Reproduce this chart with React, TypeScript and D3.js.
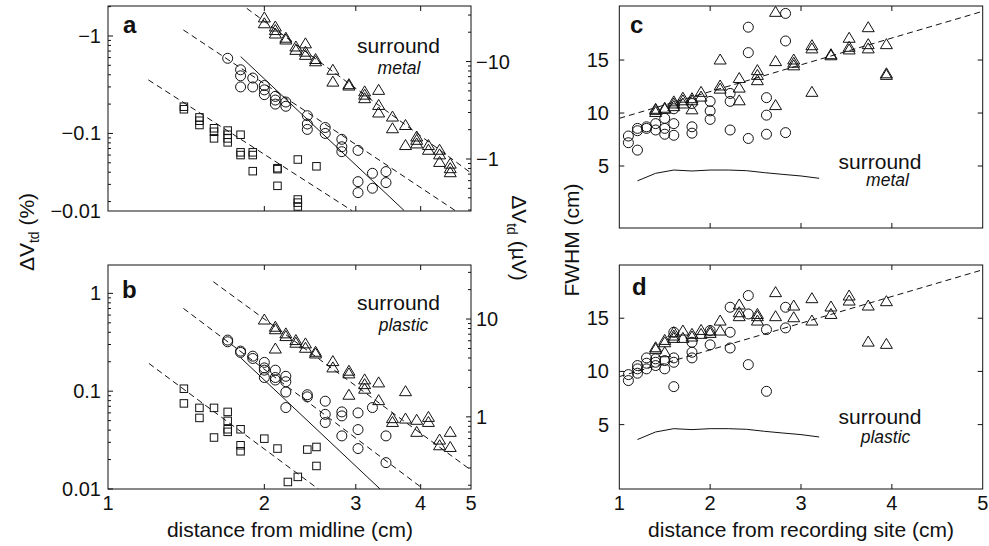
import React from "react";
import * as d3 from "d3";

type Pt = [number, number];

// ---------- Panel a (surround metal), ΔV_td in % (negative) ----------
const aSquares: Pt[] = [
  [1.4, -0.188], [1.4, -0.177],
  [1.5, -0.146], [1.5, -0.135], [1.5, -0.122],
  [1.6, -0.113], [1.6, -0.104], [1.6, -0.089],
  [1.7, -0.107], [1.7, -0.097], [1.7, -0.089], [1.7, -0.081],
  [1.8, -0.097], [1.8, -0.064], [1.8, -0.06],
  [1.9, -0.064], [1.9, -0.06], [1.9, -0.041],
  [2.12, -0.044], [2.12, -0.043], [2.12, -0.029],
  [2.32, -0.054], [2.32, -0.021], [2.32, -0.0195], [2.32, -0.0178],
  [2.52, -0.046],
];
const aCircles: Pt[] = [
  [1.7, -0.59],
  [1.8, -0.45], [1.8, -0.39], [1.8, -0.3],
  [1.9, -0.37], [1.9, -0.3],
  [2.0, -0.31], [2.0, -0.28], [2.0, -0.25],
  [2.1, -0.24], [2.1, -0.22], [2.1, -0.2],
  [2.2, -0.21], [2.2, -0.19],
  [2.42, -0.152], [2.42, -0.125], [2.42, -0.11],
  [2.62, -0.115], [2.62, -0.1],
  [2.82, -0.087], [2.82, -0.073], [2.82, -0.065],
  [3.03, -0.067], [3.03, -0.032], [3.03, -0.0247],
  [3.23, -0.039], [3.23, -0.0274],
  [3.43, -0.0406], [3.43, -0.0313],
];
const aTriangles: Pt[] = [
  [2.0, -1.55], [2.0, -1.35],
  [2.1, -1.25], [2.1, -1.15], [2.1, -1.06],
  [2.2, -0.96], [2.2, -0.92],
  [2.3, -0.78], [2.3, -0.72],
  [2.4, -0.84], [2.4, -0.69], [2.4, -0.64],
  [2.51, -0.58], [2.51, -0.55],
  [2.71, -0.45], [2.71, -0.34],
  [2.91, -0.32], [2.91, -0.31],
  [3.12, -0.27], [3.12, -0.25], [3.12, -0.23],
  [3.32, -0.28], [3.32, -0.196], [3.32, -0.164],
  [3.53, -0.149], [3.53, -0.113],
  [3.74, -0.122], [3.74, -0.076],
  [3.93, -0.093], [3.93, -0.086], [3.93, -0.079],
  [4.14, -0.076], [4.14, -0.068],
  [4.35, -0.068], [4.35, -0.061], [4.35, -0.051],
  [4.56, -0.049], [4.56, -0.044], [4.56, -0.04],
];
const aFitSquares: Pt[] = [[1.196, -0.354], [2.947, -0.0162]];
const aFitCircles: Pt[] = [[1.397, -1.152], [4.659, -0.0162]];
const aFitCirclesSolid: Pt[] = [[1.801, -0.614], [3.716, -0.0162]];
const aFitTriangles: Pt[] = [[1.85, -1.92], [5.0, -0.0393]];

// ---------- Panel b (surround plastic) ----------
const bSquares: Pt[] = [
  [1.4, 0.106], [1.4, 0.075],
  [1.5, 0.0675], [1.5, 0.0533],
  [1.6, 0.0675], [1.6, 0.0336],
  [1.7, 0.0614], [1.7, 0.0497], [1.7, 0.0408], [1.7, 0.0384],
  [1.8, 0.0408], [1.8, 0.028], [1.8, 0.0243],
  [2.0, 0.0327],
  [2.12, 0.0259],
  [2.22, 0.0118],
  [2.32, 0.0133],
  [2.42, 0.0253],
  [2.52, 0.0269], [2.52, 0.0172],
];
const bCircles: Pt[] = [
  [1.7, 0.333], [1.7, 0.32],
  [1.8, 0.257], [1.8, 0.249],
  [1.9, 0.228], [1.9, 0.216],
  [2.0, 0.197], [2.0, 0.173], [2.0, 0.164], [2.0, 0.138],
  [2.1, 0.164], [2.1, 0.138], [2.1, 0.13],
  [2.2, 0.142], [2.2, 0.125], [2.2, 0.098], [2.2, 0.068],
  [2.42, 0.092], [2.42, 0.0875],
  [2.62, 0.079], [2.62, 0.058], [2.62, 0.0478],
  [2.82, 0.0614], [2.82, 0.0559], [2.82, 0.0349],
  [3.03, 0.06], [3.03, 0.0405], [3.03, 0.0259],
  [3.23, 0.068],
  [3.43, 0.0349], [3.43, 0.0186],
];
const bTriangles: Pt[] = [
  [2.0, 0.54],
  [2.1, 0.456], [2.1, 0.43], [2.1, 0.273],
  [2.2, 0.39], [2.2, 0.366],
  [2.3, 0.333], [2.3, 0.313],
  [2.4, 0.308], [2.4, 0.278],
  [2.51, 0.253], [2.51, 0.243],
  [2.71, 0.203], [2.71, 0.175],
  [2.91, 0.162], [2.91, 0.152], [2.91, 0.092],
  [3.12, 0.132], [3.12, 0.118], [3.12, 0.106],
  [3.32, 0.123], [3.32, 0.081],
  [3.53, 0.053], [3.53, 0.0485],
  [3.74, 0.1], [3.74, 0.0525],
  [3.93, 0.051], [3.93, 0.0384],
  [4.14, 0.0546], [4.14, 0.0485],
  [4.35, 0.032], [4.35, 0.028],
  [4.56, 0.0384], [4.56, 0.0269],
];
const bFitSquares: Pt[] = [[1.199, 0.192], [2.541, 0.01]];
const bFitCircles: Pt[] = [[1.397, 0.702], [4.049, 0.01]];
const bFitCirclesSolid: Pt[] = [[1.8, 0.22], [3.341, 0.01]];
const bFitTriangles: Pt[] = [[1.595, 1.316], [5.0, 0.0156]];

// ---------- Panel c (FWHM, metal) ----------
const cCircles: Pt[] = [
  [1.1, 7.83], [1.1, 7.2],
  [1.2, 8.55], [1.2, 8.33], [1.2, 6.5],
  [1.3, 8.7], [1.3, 8.55],
  [1.4, 9.0], [1.4, 8.4],
  [1.5, 9.5], [1.5, 8.55], [1.5, 8.0],
  [1.6, 10.4], [1.6, 9.0], [1.6, 7.9],
  [1.8, 10.9], [1.8, 8.7], [1.8, 8.1],
  [2.0, 11.1], [2.0, 10.2], [2.0, 9.4],
  [2.22, 11.85], [2.22, 11.1], [2.22, 8.4],
  [2.42, 18.1], [2.42, 15.7], [2.42, 7.6],
  [2.62, 11.45], [2.62, 9.8], [2.62, 8.0],
  [2.83, 19.4], [2.83, 16.8], [2.83, 8.15],
];
const cTriangles: Pt[] = [
  [1.4, 10.4], [1.4, 10.3], [1.4, 10.1],
  [1.5, 10.4], [1.5, 10.5],
  [1.6, 11.1], [1.6, 10.9], [1.6, 10.65],
  [1.7, 11.45], [1.7, 11.2], [1.7, 10.9],
  [1.8, 11.4], [1.8, 11.2], [1.8, 10.35],
  [1.9, 12.0], [1.9, 11.55],
  [2.11, 15.05], [2.11, 12.6], [2.11, 12.3],
  [2.32, 13.3], [2.32, 12.4], [2.32, 11.2],
  [2.52, 14.05], [2.52, 13.6], [2.52, 13.1],
  [2.72, 19.55], [2.72, 14.9], [2.72, 10.75],
  [2.92, 15.05], [2.92, 14.75], [2.92, 14.5],
  [3.12, 16.4], [3.12, 16.1], [3.12, 12.0],
  [3.33, 15.55], [3.33, 15.45],
  [3.53, 17.1], [3.53, 16.25], [3.53, 16.0],
  [3.74, 18.1], [3.74, 16.5], [3.74, 16.1],
  [3.94, 16.5], [3.94, 13.75], [3.94, 13.6],
];
const cFit: Pt[] = [[1, 9.5], [5, 19.6]];

// ---------- Panel d (FWHM, plastic) ----------
const dCircles: Pt[] = [
  [1.1, 9.7], [1.1, 9.14],
  [1.2, 10.55], [1.2, 10.24], [1.2, 9.83],
  [1.3, 11.27], [1.3, 10.77], [1.3, 10.24],
  [1.4, 11.18], [1.4, 10.86], [1.4, 10.55],
  [1.5, 11.02], [1.5, 10.24],
  [1.6, 13.68], [1.6, 11.27], [1.6, 10.86], [1.6, 8.57],
  [1.8, 12.74], [1.8, 11.8], [1.8, 11.27],
  [2.0, 13.84], [2.0, 12.5],
  [2.22, 16.03], [2.22, 13.68], [2.22, 12.2],
  [2.42, 17.13], [2.42, 15.4], [2.42, 10.64],
  [2.62, 13.93], [2.62, 8.13],
  [2.83, 16.03], [2.83, 14.09],
];
const dTriangles: Pt[] = [
  [1.4, 12.27], [1.4, 12.12],
  [1.5, 12.96], [1.5, 12.74], [1.5, 11.8],
  [1.6, 13.68], [1.6, 13.37], [1.6, 13.15],
  [1.7, 13.84], [1.7, 13.15],
  [1.8, 13.53], [1.8, 13.28],
  [1.9, 13.9], [1.9, 13.53],
  [2.0, 13.84], [2.0, 13.62],
  [2.11, 14.78], [2.11, 13.84],
  [2.32, 16.29], [2.32, 15.56], [2.32, 15.19],
  [2.52, 15.4], [2.52, 15.19], [2.52, 14.78],
  [2.72, 17.45], [2.72, 15.19],
  [2.92, 16.19], [2.92, 15.09],
  [3.12, 16.88], [3.12, 14.78],
  [3.33, 16.1], [3.33, 15.4],
  [3.53, 17.13], [3.53, 16.66],
  [3.74, 16.19], [3.74, 12.8],
  [3.94, 16.6], [3.94, 12.59],
];
const dFit: Pt[] = [[1, 9.51], [5, 19.55]];

// theoretical FWHM curve (same in c and d)
const theoryX = [1.2, 1.4, 1.6, 1.8, 2.0, 2.2, 2.4, 2.6, 2.8, 3.0, 3.2];
const theoryY = [3.6, 4.31, 4.62, 4.53, 4.62, 4.62, 4.56, 4.37, 4.21, 4.06, 3.84];

// tick labels
const xLogTicks = [1, 2, 3, 4, 5];
const aLeftLabels = ["−1", "−0.1", "−0.01"];
const aRightLabels = ["−10", "−1"];
const bLeftLabels = ["1", "0.1", "0.01"];
const bRightLabels = ["10", "1"];
const fwhmTicks = [5, 10, 15];
const xLinTicks = [1, 2, 3, 4, 5];

const FONT = "'Liberation Sans', Arial, Helvetica, sans-serif";
const INK = "#111";
const UV_PER_PCT = 18.3;

const triPath = "M0,-5.5L6,4.5L-6,4.5Z";

type Sc = (v: number) => number;

function Markers({ data, x, y, shape }: { data: Pt[]; x: Sc; y: Sc; shape: string }) {
  return (
    <g fill="none" stroke={INK} strokeWidth={1}>
      {data.map((d, i) => {
        const cx = x(d[0]);
        const cy = y(d[1]);
        if (shape === "circle") return <circle key={i} cx={cx} cy={cy} r={5} />;
        if (shape === "square") return <rect key={i} x={cx - 3.75} y={cy - 3.75} width={7.5} height={7.5} />;
        return <path key={i} d={triPath} transform={`translate(${cx},${cy})`} />;
      })}
    </g>
  );
}

function isMajor(v: number) {
  const l = Math.log10(Math.abs(v));
  return Math.abs(l - Math.round(l)) < 1e-6;
}

function LogYTicks({ scale, x0, dir }: { scale: any; x0: number; dir: number }) {
  const t: number[] = scale.ticks();
  return (
    <g stroke={INK} strokeWidth={1}>
      {t.map((v, i) => {
        const yy = scale(v);
        const len = isMajor(v) ? 5 : 3;
        return <line key={i} x1={x0} x2={x0 + dir * len} y1={yy} y2={yy} />;
      })}
    </g>
  );
}

export default function App() {
  const xAB = d3.scaleLog().domain([1, 5]).range([108, 471]);
  const yA = d3.scaleLog().domain([-0.016, -2.03]).range([211, 6]);
  const yAr = d3.scaleLog().domain([-0.016 * UV_PER_PCT, -2.03 * UV_PER_PCT]).range([211, 6]);
  const yB = d3.scaleLog().domain([0.01, 1.95]).range([489, 265]);
  const yBr = d3.scaleLog().domain([0.01 * UV_PER_PCT, 1.95 * UV_PER_PCT]).range([489, 265]);
  const xCD = d3.scaleLinear().domain([1, 5]).range([619.3, 982.7]);
  const yC = d3.scaleLinear().domain([-0.85, 20.1]).range([228, 6]);
  const yD = d3.scaleLinear().domain([-1.05, 20]).range([489, 265]);

  const lineOf = (x: Sc, y: Sc) => d3.line<Pt>().x((d) => x(d[0])).y((d) => y(d[1]));
  const lA = lineOf(xAB, yA);
  const lB = lineOf(xAB, yB);
  const lC = lineOf(xCD, yC);
  const lD = lineOf(xCD, yD);
  const theory: Pt[] = theoryX.map((v, i) => [v, theoryY[i]]);

  const panels = {
    a: { x0: 108, x1: 471, y0: 6, y1: 211 },
    b: { x0: 108, x1: 471, y0: 265, y1: 489 },
    c: { x0: 619.3, x1: 982.7, y0: 6, y1: 228 },
    d: { x0: 619.3, x1: 982.7, y0: 265, y1: 489 },
  };

  const innerXTicksLog = xLogTicks.filter((v) => v > 1 && v < 5);
  const innerXTicksLin = xLinTicks.filter((v) => v > 1 && v < 5);

  const frame = (p: any, key: string) => (
    <rect key={key} x={p.x0} y={p.y0} width={p.x1 - p.x0} height={p.y1 - p.y0} fill="none" stroke={INK} strokeWidth={1} />
  );

  const xTicks = (vals: number[], sx: Sc, p: any) => (
    <g stroke={INK} strokeWidth={1}>
      {vals.map((v, i) => (
        <g key={i}>
          <line x1={sx(v)} x2={sx(v)} y1={p.y1} y2={p.y1 - 5} />
          <line x1={sx(v)} x2={sx(v)} y1={p.y0} y2={p.y0 + 5} />
        </g>
      ))}
    </g>
  );

  const linYTicks = (vals: number[], sy: Sc, p: any) => (
    <g stroke={INK} strokeWidth={1}>
      {vals.map((v, i) => (
        <g key={i}>
          <line x1={p.x0} x2={p.x0 + 5} y1={sy(v)} y2={sy(v)} />
          <line x1={p.x1} x2={p.x1 - 5} y1={sy(v)} y2={sy(v)} />
        </g>
      ))}
    </g>
  );

  const dashed = { fill: "none", stroke: INK, strokeWidth: 1, strokeDasharray: "6 4" };
  const solid = { fill: "none", stroke: INK, strokeWidth: 1 };

  const aLeftVals = [-1, -0.1];
  const aRightVals = [-10, -1];
  const bLeftVals = [1, 0.1, 0.01];
  const bRightVals = [10, 1];

  return (
    <svg
      width={989}
      height={546}
      viewBox="0 0 989 546"
      style={{ position: "absolute", left: 0, top: 0, background: "#fff" }}
      fontFamily={FONT}
    >
      <rect x={0} y={0} width={989} height={546} fill="#fff" />
      <defs>
        {Object.entries(panels).map(([k, p]) => (
          <clipPath id={`clip-${k}`} key={k}>
            <rect x={p.x0} y={p.y0} width={p.x1 - p.x0} height={p.y1 - p.y0} />
          </clipPath>
        ))}
      </defs>

      {/* ---------- Panel a ---------- */}
      <g clipPath="url(#clip-a)">
        <path d={lA(aFitSquares) || ""} {...dashed} />
        <path d={lA(aFitCircles) || ""} {...dashed} />
        <path d={lA(aFitTriangles) || ""} {...dashed} />
        <path d={lA(aFitCirclesSolid) || ""} {...solid} />
      </g>
      <Markers data={aSquares} x={xAB} y={yA} shape="square" />
      <Markers data={aCircles} x={xAB} y={yA} shape="circle" />
      <Markers data={aTriangles} x={xAB} y={yA} shape="triangle" />
      <LogYTicks scale={yA} x0={panels.a.x0} dir={1} />
      <LogYTicks scale={yAr} x0={panels.a.x1} dir={-1} />
      {xTicks(innerXTicksLog, xAB, panels.a)}
      {frame(panels.a, "fa")}
      <g fontSize={20} fill={INK}>
        {aLeftVals.map((v, i) => (
          <text key={i} x={101} y={yA(v)} dy="0.35em" textAnchor="end">{aLeftLabels[i]}</text>
        ))}
        <text x={101} y={panels.a.y1} dy="0.35em" textAnchor="end">{aLeftLabels[2]}</text>
        {aRightVals.map((v, i) => (
          <text key={i} x={476} y={yAr(v)} dy="0.35em" textAnchor="start">{aRightLabels[i]}</text>
        ))}
      </g>
      <text x={123} y={33} fontSize={24} fontWeight="bold" fill={INK}>a</text>
      <text x={398.5} y={52.5} fontSize={21} textAnchor="middle" fill={INK}>surround</text>
      <text x={399} y={74} fontSize={17.5} fontStyle="italic" textAnchor="middle" fill={INK}>metal</text>

      {/* ---------- Panel b ---------- */}
      <g clipPath="url(#clip-b)">
        <path d={lB(bFitSquares) || ""} {...dashed} />
        <path d={lB(bFitCircles) || ""} {...dashed} />
        <path d={lB(bFitTriangles) || ""} {...dashed} />
        <path d={lB(bFitCirclesSolid) || ""} {...solid} />
      </g>
      <Markers data={bSquares} x={xAB} y={yB} shape="square" />
      <Markers data={bCircles} x={xAB} y={yB} shape="circle" />
      <Markers data={bTriangles} x={xAB} y={yB} shape="triangle" />
      <LogYTicks scale={yB} x0={panels.b.x0} dir={1} />
      <LogYTicks scale={yBr} x0={panels.b.x1} dir={-1} />
      {xTicks(innerXTicksLog, xAB, panels.b)}
      {frame(panels.b, "fb")}
      <g fontSize={20} fill={INK}>
        {bLeftVals.map((v, i) => (
          <text key={i} x={101} y={yB(v)} dy="0.35em" textAnchor="end">{bLeftLabels[i]}</text>
        ))}
        {bRightVals.map((v, i) => (
          <text key={i} x={476} y={yBr(v)} dy="0.35em" textAnchor="start">{bRightLabels[i]}</text>
        ))}
        {xLogTicks.map((v, i) => (
          <text key={i} x={xAB(v)} y={panels.b.y1 + 21} textAnchor="middle">{String(v)}</text>
        ))}
      </g>
      <text x={122} y={298} fontSize={24} fontWeight="bold" fill={INK}>b</text>
      <text x={398.5} y={309.5} fontSize={21} textAnchor="middle" fill={INK}>surround</text>
      <text x={403.5} y={331} fontSize={17.5} fontStyle="italic" textAnchor="middle" fill={INK}>plastic</text>
      <text x={290} y={537} fontSize={21} textAnchor="middle" fill={INK}>distance from midline (cm)</text>

      {/* ---------- Panel c ---------- */}
      <g clipPath="url(#clip-c)">
        <path d={lC(cFit) || ""} {...dashed} />
        <path d={lC(theory) || ""} {...solid} />
      </g>
      <Markers data={cCircles} x={xCD} y={yC} shape="circle" />
      <Markers data={cTriangles} x={xCD} y={yC} shape="triangle" />
      {linYTicks(fwhmTicks, yC, panels.c)}
      {xTicks(innerXTicksLin, xCD, panels.c)}
      {frame(panels.c, "fc")}
      <g fontSize={20} fill={INK}>
        {fwhmTicks.map((v, i) => (
          <text key={i} x={609} y={yC(v)} dy="0.35em" textAnchor="end">{String(v)}</text>
        ))}
      </g>
      <text x={630} y={33} fontSize={24} fontWeight="bold" fill={INK}>c</text>
      <text x={880} y={168.5} fontSize={21} textAnchor="middle" fill={INK}>surround</text>
      <text x={887.5} y={186} fontSize={17.5} fontStyle="italic" textAnchor="middle" fill={INK}>metal</text>

      {/* ---------- Panel d ---------- */}
      <g clipPath="url(#clip-d)">
        <path d={lD(dFit) || ""} {...dashed} />
        <path d={lD(theory) || ""} {...solid} />
      </g>
      <Markers data={dCircles} x={xCD} y={yD} shape="circle" />
      <Markers data={dTriangles} x={xCD} y={yD} shape="triangle" />
      {linYTicks(fwhmTicks, yD, panels.d)}
      {xTicks(innerXTicksLin, xCD, panels.d)}
      {frame(panels.d, "fd")}
      <g fontSize={20} fill={INK}>
        {fwhmTicks.map((v, i) => (
          <text key={i} x={609} y={yD(v)} dy="0.35em" textAnchor="end">{String(v)}</text>
        ))}
        {xLinTicks.map((v, i) => (
          <text key={i} x={xCD(v)} y={panels.d.y1 + 21} textAnchor="middle">{String(v)}</text>
        ))}
      </g>
      <text x={632} y={295} fontSize={24} fontWeight="bold" fill={INK}>d</text>
      <text x={880} y={424} fontSize={21} textAnchor="middle" fill={INK}>surround</text>
      <text x={885.5} y={443} fontSize={17.5} fontStyle="italic" textAnchor="middle" fill={INK}>plastic</text>
      <text x={801} y={537} fontSize={21} textAnchor="middle" fill={INK}>distance from recording site (cm)</text>

      {/* ---------- axis titles ---------- */}
      <text transform="translate(34,232) rotate(-90)" fontSize={21} textAnchor="middle" fill={INK}>
        ΔV<tspan fontSize={14} dy={5}>td</tspan><tspan dy={-5}> (%)</tspan>
      </text>
      <text transform="translate(512,238) rotate(90)" fontSize={21} textAnchor="middle" fill={INK}>
        ΔV<tspan fontSize={14} dy={5}>td</tspan><tspan dy={-5}> (µV)</tspan>
      </text>
      <text transform="translate(579,240) rotate(-90)" fontSize={21} textAnchor="middle" fill={INK}>
        FWHM (cm)
      </text>
    </svg>
  );
}
